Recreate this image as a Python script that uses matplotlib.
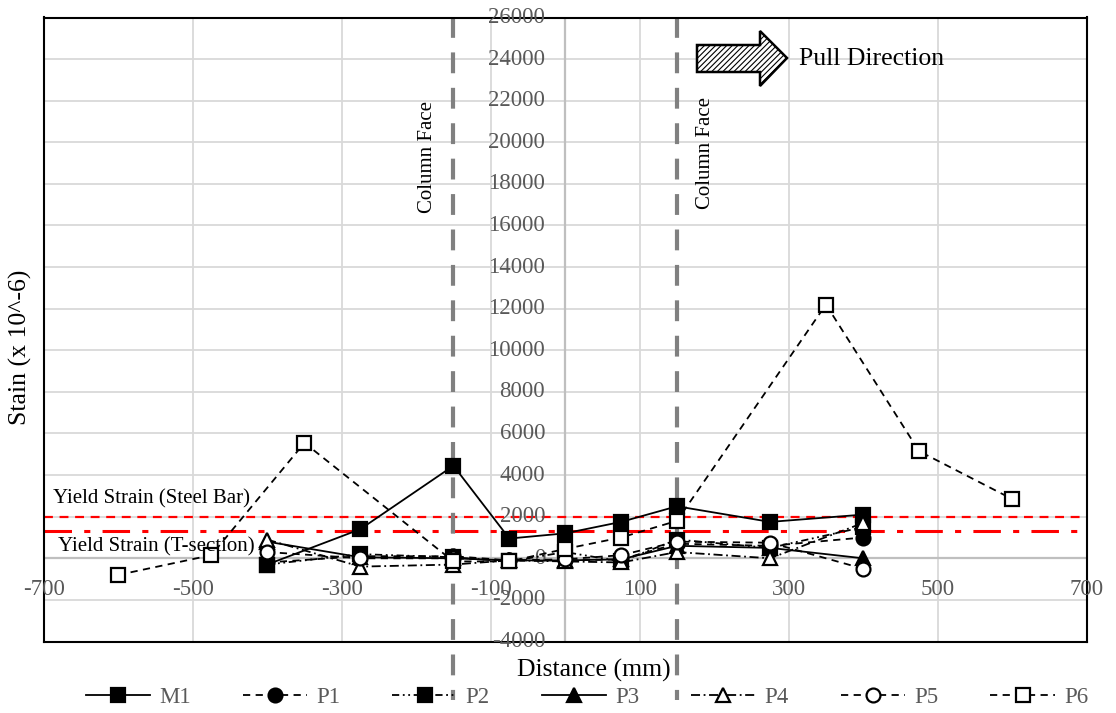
import matplotlib.pyplot as plt
from matplotlib.patches import Polygon
import matplotlib.transforms as mtransforms

plt.rcParams['font.family'] = ['Liberation Serif', 'DejaVu Serif']
plt.rcParams['hatch.linewidth'] = 0.8
plt.rcParams['hatch.color'] = '#404040'

# gauge positions (mm) and strains (x 10^-6)
x_gauge = [-400, -275, -150, -75, 0, 75, 150, 275, 400]
m1 = [-300, 1400, 4450, 950, 1200, 1750, 2500, 1750, 2100]
p1 = [-200, 100, 100, -100, -100, -50, 700, 600, 1000]
p2 = [-300, 200, 50, -150, 300, -150, 900, 500, 1500]
p3 = [800, 50, 0, -100, -100, -50, 600, 500, 0]
p4 = [900, -400, -300, -100, -150, -200, 300, 0, 1700]
p5 = [300, 0, 0, -100, -50, 150, 800, 750, -500]

x_p6 = [-600, -475, -350, -150, -75, 0, 75, 150, 350, 475, 600]
p6 = [-800, 150, 5550, -150, -150, 450, 1000, 1800, 12200, 5150, 2850]

yield_bar = 2000
yield_tsec = 1330
column_faces = [-150, 150]

x_ticks = list(range(-700, 701, 200))
y_ticks = list(range(-4000, 26001, 2000))

W, H = 1116, 713
fig = plt.figure(figsize=(W / 100, H / 100), dpi=100)
ax = fig.add_axes([43.7 / W, 1 - 641.5 / H, 1043 / W, 624 / H])
ax.set_xlim(-700, 700)
ax.set_ylim(-4000, 26000)
ax.set_xticks([])
ax.set_yticks([])
for s in ax.spines.values():
    s.set_linewidth(1.5)
    s.set_color('black')

# grid
for xv in x_ticks[1:-1]:
    ax.axvline(xv, color='#d9d9d9', lw=1.3, zorder=0)
for yv in y_ticks[1:-1]:
    ax.axhline(yv, color='#d9d9d9', lw=1.3, zorder=0)
ax.axvline(0, color='#bfbfbf', lw=1.6, zorder=0.5)
ax.axhline(0, color='#bfbfbf', lw=1.6, zorder=0.5)

# tick labels at the crossing axes
gray = '#595959'
tr_x = ax.transData + mtransforms.ScaledTranslation(0, -31 / 100, fig.dpi_scale_trans)
for xv in x_ticks:
    ax.text(xv, 0, str(xv), transform=tr_x, ha='center', va='center',
            fontsize=16.5, color=gray, clip_on=False)
tr_y = ax.transData + mtransforms.ScaledTranslation(-20 / 100, 0, fig.dpi_scale_trans)
for yv in y_ticks:
    ax.text(0, yv, str(yv), transform=tr_y, ha='right', va='center',
            fontsize=16.5, color=gray, clip_on=False)

# yield lines
ax.axhline(yield_bar, color='red', lw=1.6, ls=(0, (4, 3)), zorder=1)
ax.axhline(yield_tsec, color='red', lw=2.2, ls=(0, (9, 4, 2, 4)), zorder=1)

# column faces
for cf in column_faces:
    ax.plot([cf, cf], [26000, -6800], color='#808080', lw=3, ls=(0, (5, 3.5)),
            clip_on=False, zorder=1)

# series
series = [
    ('M1', x_gauge, m1, '-', 's', 'black'),
    ('P1', x_gauge, p1, (0, (4, 3)), 'o', 'black'),
    ('P2', x_gauge, p2, (0, (4, 2, 1, 2, 1, 2)), 's', 'black'),
    ('P3', x_gauge, p3, '-', '^', 'black'),
    ('P4', x_gauge, p4, (0, (5, 2, 1, 2)), '^', 'white'),
    ('P5', x_gauge, p5, (0, (4, 3)), 'o', 'white'),
    ('P6', x_p6, p6, (0, (4, 3)), 's', 'white'),
]
for name, xs, ys, ls, mk, fc in series:
    ax.plot(xs, ys, color='black', lw=1.3, ls=ls, marker=mk, markersize=10,
            markerfacecolor=fc, markeredgecolor='black', markeredgewidth=1.6,
            label=name, zorder=3)

# annotations
ax.text(53 / W, 1 - 499 / H, 'Yield Strain (Steel Bar)', transform=fig.transFigure,
        ha='left', va='center', fontsize=15)
ax.text(58 / W, 1 - 547 / H, 'Yield Strain (T-section)', transform=fig.transFigure,
        ha='left', va='center', fontsize=15)
fig.text(428 / W, 1 - 157 / H, 'Column Face', rotation=90, ha='center', va='center', fontsize=15)
fig.text(706 / W, 1 - 153 / H, 'Column Face', rotation=90, ha='center', va='center', fontsize=15)

arrow_px = [(697, 45), (760, 45), (760, 31), (787, 58), (760, 86), (760, 72), (697, 72)]
arrow = Polygon([(px / W, 1 - py / H) for px, py in arrow_px], closed=True,
                transform=fig.transFigure, facecolor='white', edgecolor='black',
                lw=1.8, hatch='//////')
fig.patches.append(arrow)
fig.text(799 / W, 1 - 59 / H, 'Pull Direction', ha='left', va='center', fontsize=18.5)

fig.text(594 / W, 1 - 670 / H, 'Distance (mm)', ha='center', va='center', fontsize=18.5)
fig.text(20 / W, 1 - 347 / H, 'Stain (x 10^-6)', rotation=90, ha='center', va='center',
         fontsize=18.5)

leg = fig.legend(loc='center', bbox_to_anchor=(0.526, 1 - 697 / H), ncol=7, frameon=False,
                 fontsize=16.5, handlelength=2.8, columnspacing=2.27, handletextpad=0.4,
                 borderaxespad=0)
for t in leg.get_texts():
    t.set_color(gray)

fig.savefig('out.png', dpi=100)
